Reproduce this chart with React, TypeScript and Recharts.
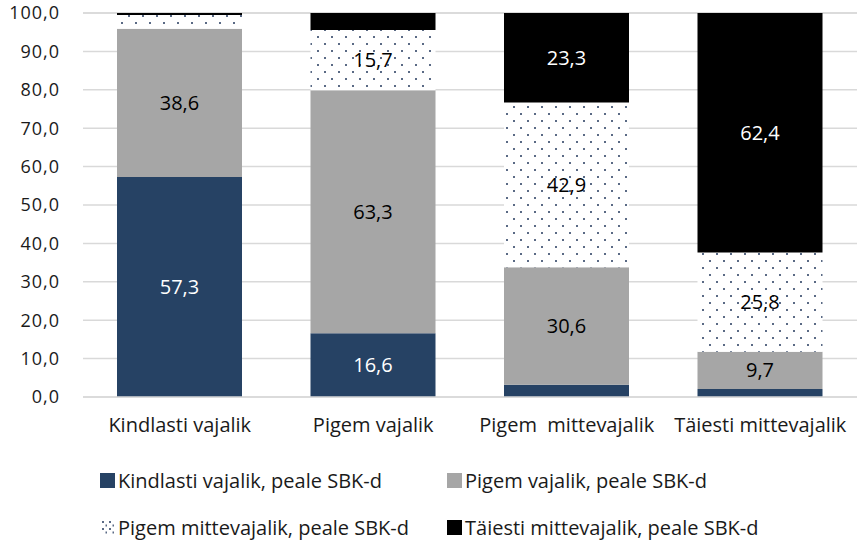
import React from 'react';
import { BarChart, Bar, XAxis, YAxis, CartesianGrid, LabelList } from 'recharts';

const categories = ['Kindlasti vajalik', 'Pigem vajalik', 'Pigem  mittevajalik', 'Täiesti mittevajalik'];
const kindlasti = [57.3, 16.6, 3.2, 2.1];
const pigem = [38.6, 63.3, 30.6, 9.7];
const pigemMitte = [3.6, 15.7, 42.9, 25.8];
const taiesti = [0.5, 4.4, 23.3, 62.4];
const yTicks = [0, 10, 20, 30, 40, 50, 60, 70, 80, 90, 100];

const series = [
  { key: 'k', name: 'Kindlasti vajalik, peale SBK-d', values: kindlasti, fill: '#264264', label: '#ffffff' },
  { key: 'p', name: 'Pigem vajalik, peale SBK-d', values: pigem, fill: '#a6a6a6', label: '#000000' },
  { key: 'pm', name: 'Pigem mittevajalik, peale SBK-d', values: pigemMitte, fill: 'url(#dots)', label: '#000000' },
  { key: 't', name: 'Täiesti mittevajalik, peale SBK-d', values: taiesti, fill: '#000000', label: '#ffffff' },
];

const data = categories.map((c, i) => {
  const row: Record<string, any> = { cat: c };
  series.forEach(s => { row[s.key] = s.values[i]; });
  return row;
});

const FONT = '"Open Sans", "DejaVu Sans", sans-serif';
const comma = (v: any) => Number(v).toFixed(1).replace('.', ',');
// small segments get no label
const barLabel = (v: any) => (Number(v) >= 5 ? comma(v) : '');

function DotPattern({ id, size = 14 }: { id: string; size?: number }) {
  const h = size / 2;
  return (
    <pattern id={id} width={size} height={size} patternUnits="userSpaceOnUse">
      <rect width={size} height={size} fill="#ffffff" />
      <rect x={2} y={1} width={2} height={2} fill="#5a6a85" />
      <rect x={2 + h} y={1 + h} width={2} height={2} fill="#5a6a85" />
    </pattern>
  );
}

function XTick(props: any) {
  const { x, y, payload } = props;
  return (
    <text x={x} y={y} dy="0.71em" textAnchor="middle" fill="#1a1a1a" fontSize={20} style={{ whiteSpace: 'pre' }}>
      {payload.value}
    </text>
  );
}

export default function App() {
  return (
    <div style={{ position: 'absolute', left: 0, top: 0, width: 857, height: 541, background: '#fff', fontFamily: FONT }}>
      <BarChart width={857} height={445} data={data} margin={{ top: 13, right: 0, bottom: 0, left: 0 }} barSize={125}>
        <defs>
          <DotPattern id="dots" />
        </defs>
        <CartesianGrid vertical={false} stroke="#d9d9d9" strokeWidth={1.5} />
        <XAxis dataKey="cat" height={48} tickLine={false} axisLine={{ stroke: '#d9d9d9', strokeWidth: 1.5 }} tickMargin={15} tick={<XTick />} interval={0} />
        <YAxis width={83} domain={[0, 100]} ticks={yTicks} tickFormatter={comma} tickLine={false} axisLine={false} tickMargin={17} tick={{ fontSize: 18, fill: '#1a1a1a', letterSpacing: 1 }} />
        {series.map(s => (
          <Bar key={s.key} dataKey={s.key} stackId="a" fill={s.fill} isAnimationActive={false}>
            <LabelList dataKey={s.key} position="center" formatter={barLabel} fill={s.label} fontSize={20} />
          </Bar>
        ))}
      </BarChart>

      <div style={{ position: 'absolute', left: 100, top: 466, display: 'grid', gridTemplateColumns: '347px auto', rowGap: 19, fontSize: 20, color: '#1a1a1a' }}>
        {series.map(s => (
          <div key={s.key} style={{ display: 'flex', alignItems: 'center', height: 28 }}>
            <svg width={15} height={15} style={{ marginRight: 3 }}>
              {s.key === 'pm' ? (
                <>
                  <defs><DotPattern id="dotsLegend" size={7} /></defs>
                  <rect width={15} height={15} fill="url(#dotsLegend)" />
                </>
              ) : (
                <rect width={15} height={15} fill={s.fill} />
              )}
            </svg>
            <span>{s.name}</span>
          </div>
        ))}
      </div>
    </div>
  );
}
